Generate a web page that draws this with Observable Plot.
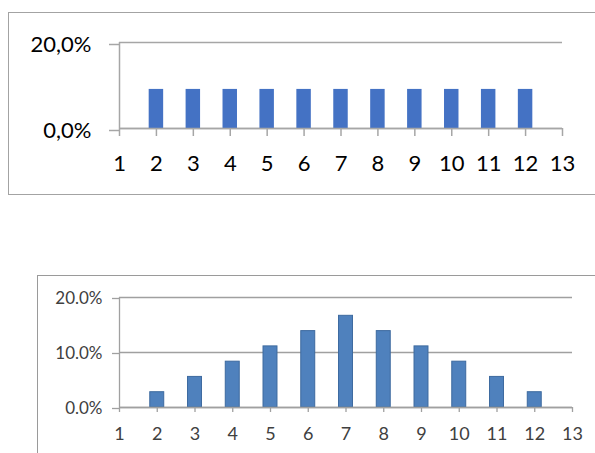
<!DOCTYPE html>
<html><head><meta charset="utf-8">
<script src="https://cdn.jsdelivr.net/npm/d3@7"></script>
<script src="https://cdn.jsdelivr.net/npm/@observablehq/plot@0.6"></script>
<style>
html,body{margin:0;padding:0;background:#fff;width:595px;height:453px;overflow:hidden;}
#wrap{position:relative;width:595px;height:453px;}
.box{position:absolute;box-sizing:border-box;}
.chart{position:absolute;left:0;}
</style></head><body>
<div id="wrap">
<div class="box" style="left:8px;top:12px;width:600px;height:183px;border:1.5px solid #a3a3a3"></div>
<div class="box" style="left:37px;top:275px;width:600px;height:200px;border:1.5px solid #9a9a9a"></div>
<div class="chart" id="c1" style="top:0"></div>
<div class="chart" id="c2" style="top:260px"></div>
</div>
<script>
// Sums of two dice
const sums = [2, 3, 4, 5, 6, 7, 8, 9, 10, 11, 12];
// Top chart: uniform probability for each sum (read ~9.1%)
const uniformP = [0.0909, 0.0909, 0.0909, 0.0909, 0.0909, 0.0909, 0.0909, 0.0909, 0.0909, 0.0909, 0.0909];
// Bottom chart: probability of sum of two dice
const diceP = [0.0278, 0.0556, 0.0833, 0.1111, 0.1389, 0.1667, 0.1389, 0.1111, 0.0833, 0.0556, 0.0278];
// Axis ticks
const xTicks = [1, 2, 3, 4, 5, 6, 7, 8, 9, 10, 11, 12, 13];
const yTicksTop = [0, 0.2];
const yLabelsTop = ["0,0%", "20,0%"];
const yTicksBottom = [0, 0.1, 0.2];
const yLabelsBottom = ["0.0%", "10.0%", "20.0%"];

const topData = sums.map((s, i) => ({sum: s, p: uniformP[i]}));
const botData = sums.map((s, i) => ({sum: s, p: diceP[i]}));

const c1 = Plot.plot({
  width: 595, height: 200,
  marginLeft: 119, marginRight: 33, marginTop: 42, marginBottom: 72,
  x: {type: "linear", domain: [1, 13], label: null},
  y: {domain: [0, 0.2], label: null},
  style: {background: "transparent", fontFamily: "Lato, 'Open Sans', sans-serif", color: "#000"},
  marks: [
    Plot.gridY(yTicksTop, {stroke: "#a6a6a6", strokeOpacity: 1, strokeWidth: 1.5}),
    Plot.ruleX([1], {stroke: "#a6a6a6", strokeWidth: 1.5}),
    Plot.rectY(topData, {x1: d => d.sum - 0.196, x2: d => d.sum + 0.196, y1: 0, y2: "p", fill: "#4472C4"}),
    Plot.ruleY([0], {stroke: "#a6a6a6", strokeWidth: 1.5}),
    Plot.axisX(xTicks, {tickSize: 8, tickPadding: 19, fontSize: 22, stroke: "#a6a6a6", strokeWidth: 1.5, fill: "#000", label: null, tickFormat: d => String(d)}),
    Plot.axisY(yTicksTop, {tickSize: 10, tickPadding: 18, fontSize: 22, stroke: "#a6a6a6", strokeWidth: 1.5, fill: "#000", label: null, dy: 2,
      tickFormat: d => yLabelsTop[yTicksTop.indexOf(d)]})
  ]
});
document.getElementById("c1").appendChild(c1);

const c2 = Plot.plot({
  width: 595, height: 193,
  marginLeft: 119, marginRight: 23, marginTop: 37, marginBottom: 46,
  x: {type: "linear", domain: [1, 13], label: null},
  y: {domain: [0, 0.2], label: null},
  style: {background: "transparent", fontFamily: "Lato, 'Open Sans', sans-serif", color: "#404040"},
  marks: [
    Plot.gridY(yTicksBottom, {stroke: "#a0a0a0", strokeOpacity: 1, strokeWidth: 1.3}),
    Plot.ruleX([1], {stroke: "#a0a0a0", strokeWidth: 1.3}),
    Plot.rectY(botData, {x1: d => d.sum - 0.185, x2: d => d.sum + 0.185, y1: 0, y2: "p", fill: "#4F81BD", stroke: "#3d6a9f", strokeWidth: 1}),
    Plot.ruleY([0], {stroke: "#a0a0a0", strokeWidth: 1.3}),
    Plot.axisX(xTicks, {tickSize: 5, tickPadding: 15, fontSize: 18, stroke: "#a0a0a0", strokeWidth: 1.3, fill: "#404040", label: null, tickFormat: d => String(d)}),
    Plot.axisY(yTicksBottom, {tickSize: 7, tickPadding: 10, fontSize: 17, stroke: "#a0a0a0", strokeWidth: 1.3, fill: "#404040", label: null, dy: 1,
      tickFormat: d => yLabelsBottom[yTicksBottom.indexOf(d)]})
  ]
});
document.getElementById("c2").appendChild(c2);
</script>
</body></html>
